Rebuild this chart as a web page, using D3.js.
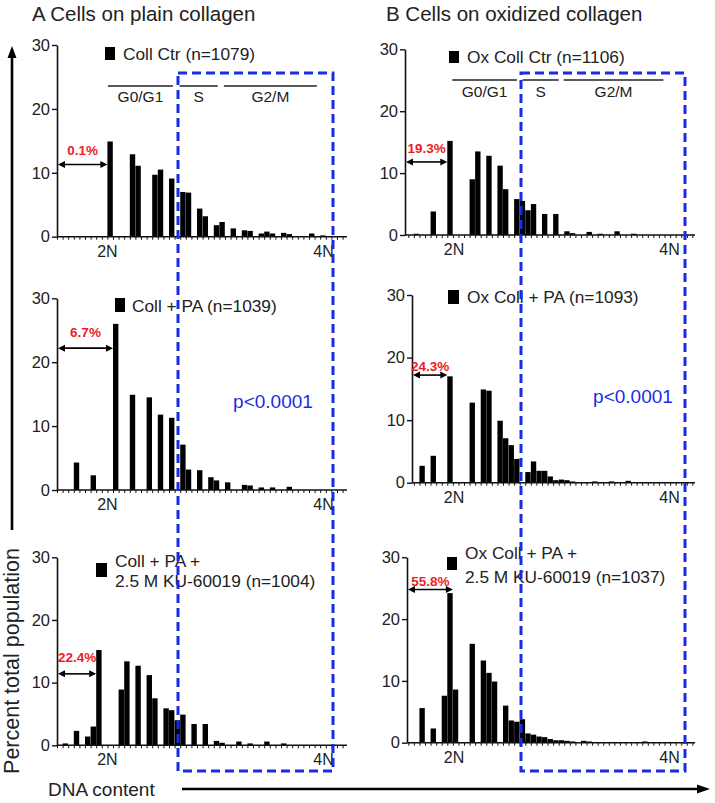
<!DOCTYPE html>
<html><head><meta charset="utf-8">
<script src="https://cdn.jsdelivr.net/npm/d3@7/dist/d3.min.js"></script>
<style>body{margin:0;background:#fff}svg{display:block}text{font-family:"Liberation Sans",Arial,sans-serif}</style>
</head><body><svg id="c" width="715" height="803"></svg>
<script>
// ---- data ----
const a1Bins = [9,13,14,17,18,20,22,23,25,26,28,29,31,33,34,36,37,38,40,41,45,47];
const a1Values = [14.9,12.9,11.1,9.7,10.5,9.1,7.0,6.9,4.4,3.2,1.8,2.3,1.3,1.0,0.9,0.5,0.8,0.5,0.6,0.4,0.5,0.2];
const a2Bins = [3,6,10,13,16,18,20,22,23,25,27,28,30,33,34,36,38,41];
const a2Values = [4.3,2.3,26.0,14.9,14.5,11.8,11.3,7.1,3.2,3.1,2.0,1.5,1.2,0.8,0.7,0.4,0.4,0.5];
const a3Bins = [1,3,5,6,7,11,12,14,16,17,19,20,21,22,24,26,28,29,32,34,37,40];
const a3Values = [0.3,2.3,1.4,3.0,15.2,8.9,13.4,12.7,11.2,7.5,5.9,5.6,4.0,4.9,3.4,3.4,0.7,0.4,0.6,0.3,0.6,0.3];
const b1Bins = [1,4,7,11,12,14,16,17,19,20,21,22,24,26,28,29,32,34,37,40];
const b1Values = [0.2,3.8,15.2,9.0,13.5,12.8,11.2,7.4,5.8,5.5,4.0,5.0,3.4,3.4,0.6,0.3,0.5,0.2,0.6,0.2];
const b2Bins = [2,4,7,11,13,14,16,17,18,19,21,22,23,24,25,26,27,28,29,30,33,36,39];
const b2Values = [2.7,4.3,17.0,12.8,14.9,14.7,9.9,7.1,6.0,3.8,1.7,3.4,1.9,1.9,1.0,0.4,0.5,0.4,0.2,0.1,0.2,0.2,0.3];
const b3Bins = [2,4,6,7,8,11,13,14,15,17,18,19,20,21,22,23,24,25,26,27,28,29,31,32,35,38,42,45];
const b3Values = [5.6,2.3,7.6,24.2,8.6,16.0,13.3,11.3,9.9,6.0,3.6,3.4,3.8,1.5,1.3,1.0,0.9,0.6,0.4,0.4,0.3,0.2,0.3,0.2,0.1,0.1,0.2,0.1];

const yTicks = [0,10,20,30];
const xTickLabels = ["2N","4N"];
const xTickBinsA = [9,47.6];
const xTickBinsB = [8.2,46.9];
const phaseNames = ["G0/G1","S","G2/M"];
const phaseStartA = [9.1,21.9,29.8], phaseEndA = [20.7,28.7,46.4];
const phaseStartB = [7.9,20.5,27.9], phaseEndB = [19.5,27.0,45.8];
const legendLines = [["Coll Ctr (n=1079)"],["Coll + PA (n=1039)"],["Coll + PA +","2.5 M KU-60019 (n=1004)"],
                     ["Ox Coll Ctr (n=1106)"],["Ox Coll + PA (n=1093)"],["Ox Coll + PA +","2.5 M KU-60019 (n=1037)"]];
const pctLabels = ["0.1%","6.7%","22.4%","19.3%","24.3%","55.8%"];
const pctArrowY = [11.3,22.2,11.4,11.8,17.2,24.8];
const pctArrowEndBin = [9,10,7,7,7,8];
const pctTextY = [12.8,23.9,13.3,13.2,17.8,25.4];
const pValue = "p<0.0001";
const titles = ["A Cells on plain collagen","B Cells on oxidized collagen"];

// ---- layout ----
const NB = 52;
const colA = {x0:57, w:5.6, end:347};
const colB = {x0:408.3, w:5.57, end:695};
const panels = [
  {bins:a1Bins, vals:a1Values, col:colA, ax:57,  y0:236.7, y30:45,   leg:{sx:105,sy:47,sw:10,sh:13,tx:123,ty:[60]}},
  {bins:a2Bins, vals:a2Values, col:colA, ax:57,  y0:490,   y30:298.3,leg:{sx:115,sy:298,sw:10,sh:14,tx:132,ty:[312]}, p:{x:273,y:408}},
  {bins:a3Bins, vals:a3Values, col:colA, ax:57,  y0:745.3, y30:557.3,leg:{sx:96,sy:563,sw:11,sh:14,tx:115,ty:[567,587]}},
  {bins:b1Bins, vals:b1Values, col:colB, ax:405, y0:235,   y30:49.3, leg:{sx:449,sy:51,sw:10,sh:12,tx:467,ty:[63]}},
  {bins:b2Bins, vals:b2Values, col:colB, ax:412, y0:482.7, y30:295,  leg:{sx:448,sy:290,sw:11,sh:14,tx:467,ty:[303]}, p:{x:633,y:403}},
  {bins:b3Bins, vals:b3Values, col:colB, ax:407, y0:742.7, y30:557.3,leg:{sx:447,sy:557,sw:10,sh:13,tx:465,ty:[559,583]}}
];

const svg = d3.select("#c");
const ink = "#111";
const blue = "#1a2be6";
const red = "#ee1c25";

svg.selectAll("text.title").data(titles).join("text")
  .attr("x",(d,i)=>i?386:32).attr("y",21).attr("font-size",20.5).attr("fill","#222").text(d=>d);

panels.forEach((p,pi)=>{
  const x = d3.scaleLinear().domain([0,NB]).range([p.col.x0, p.col.x0+NB*p.col.w]);
  const y = d3.scaleLinear().domain([0,30]).range([p.y0,p.y30]);
  const g = svg.append("g");
  // bars
  g.selectAll("rect.bar").data(p.bins.map((b,i)=>({b,v:p.vals[i]}))).join("rect")
    .attr("x",d=>x(d.b)).attr("width",x(1)-x(0)-0.2)
    .attr("y",d=>y(d.v)).attr("height",d=>y(0)-y(d.v)).attr("fill","#000");
  // x ticks
  const tv = d3.range(0,NB).filter(v=>x(v)>=p.ax-0.5 && x(v)<=p.col.end);
  const xa = g.append("g").attr("transform",`translate(0,${p.y0})`)
    .call(d3.axisBottom(x).tickValues(tv).tickSize(3).tickFormat(""));
  xa.select(".domain").remove();
  xa.selectAll("line").attr("stroke",ink).attr("stroke-width",1);
  g.append("line").attr("x1",p.ax).attr("x2",p.col.end).attr("y1",p.y0).attr("y2",p.y0)
    .attr("stroke",ink).attr("stroke-width",1.6);
  const xb = p.col===colA?xTickBinsA:xTickBinsB;
  g.selectAll("text.xl").data(xTickLabels).join("text")
    .attr("x",(d,i)=>x(xb[i])).attr("y",p.y0+20).attr("text-anchor","middle")
    .attr("font-size",16).attr("fill","#222").text(d=>d);
  // y axis
  const ya = g.append("g").attr("transform",`translate(${p.ax},0)`)
    .call(d3.axisLeft(y).tickValues(yTicks).tickSize(5).tickPadding(2).tickSizeOuter(0));
  ya.select(".domain").attr("stroke",ink).attr("stroke-width",1.6);
  ya.selectAll("line").attr("stroke",ink).attr("stroke-width",1.4);
  ya.selectAll("text").attr("font-size",16.5).attr("font-family","Liberation Sans, Arial, sans-serif").attr("fill","#222");
  // legend
  const L = p.leg;
  g.append("rect").attr("x",L.sx).attr("y",L.sy).attr("width",L.sw).attr("height",L.sh).attr("fill","#000");
  legendLines[pi].forEach((t,i)=>{
    g.append("text").attr("x",L.tx).attr("y",L.ty[i]).attr("font-size",17.3).attr("fill","#222").text(t);
  });
  // pct arrow
  const ay = y(pctArrowY[pi]), ax1 = p.ax+1, ax2 = x(pctArrowEndBin[pi]);
  g.append("line").attr("x1",ax1+5).attr("x2",ax2-5).attr("y1",ay).attr("y2",ay).attr("stroke","#000").attr("stroke-width",1.6);
  g.append("path").attr("d",`M${ax1},${ay}L${ax1+7},${ay-3.5}L${ax1+7},${ay+3.5}Z`).attr("fill","#000");
  g.append("path").attr("d",`M${ax2},${ay}L${ax2-7},${ay-3.5}L${ax2-7},${ay+3.5}Z`).attr("fill","#000");
  g.append("text").attr("x",(ax1+ax2)/2).attr("y",y(pctTextY[pi])).attr("text-anchor","middle")
    .attr("font-size",13.5).attr("font-weight","bold").attr("fill",red).text(pctLabels[pi]);
  // p value
  if(p.p){
    g.append("text").attr("x",p.p.x).attr("y",p.p.y).attr("text-anchor","middle")
      .attr("font-size",19).attr("fill",blue).text(pValue);
  }
  // phases
  if(pi===0||pi===3){
    const ps = pi===0?phaseStartA:phaseStartB, pe = pi===0?phaseEndA:phaseEndB;
    const ly = pi===0?86:80, ty = pi===0?101.5:97;
    phaseNames.forEach((n,i)=>{
      g.append("line").attr("x1",x(ps[i])).attr("x2",x(pe[i])).attr("y1",ly).attr("y2",ly).attr("stroke","#222").attr("stroke-width",1.6);
      g.append("text").attr("x",(x(ps[i])+x(pe[i]))/2).attr("y",ty).attr("text-anchor","middle")
        .attr("font-size",15.5).attr("fill","#222").text(n);
    });
  }
});

// dashed boxes
[[178,333],[521,685]].forEach(([l,r])=>{
  svg.append("rect").attr("x",l).attr("y",73).attr("width",r-l).attr("height",771-73)
    .attr("fill","none").attr("stroke",blue).attr("stroke-width",3).attr("stroke-dasharray","9,5");
});

// big arrows
svg.append("line").attr("x1",12).attr("x2",12).attr("y1",530).attr("y2",56).attr("stroke","#000").attr("stroke-width",2.6);
svg.append("path").attr("d","M12,46L7.5,58L16.5,58Z").attr("fill","#000");
svg.append("text").attr("transform","translate(19,661) rotate(-90)").attr("text-anchor","middle")
  .attr("font-size",21.5).attr("fill","#222").text("Percent total population");
svg.append("text").attr("x",48).attr("y",796).attr("font-size",19).attr("fill","#222").text("DNA content");
svg.append("line").attr("x1",182).attr("x2",698).attr("y1",789).attr("y2",789).attr("stroke","#000").attr("stroke-width",2.6);
svg.append("path").attr("d","M710,789L697,784.5L697,793.5Z").attr("fill","#000");
</script></body></html>
